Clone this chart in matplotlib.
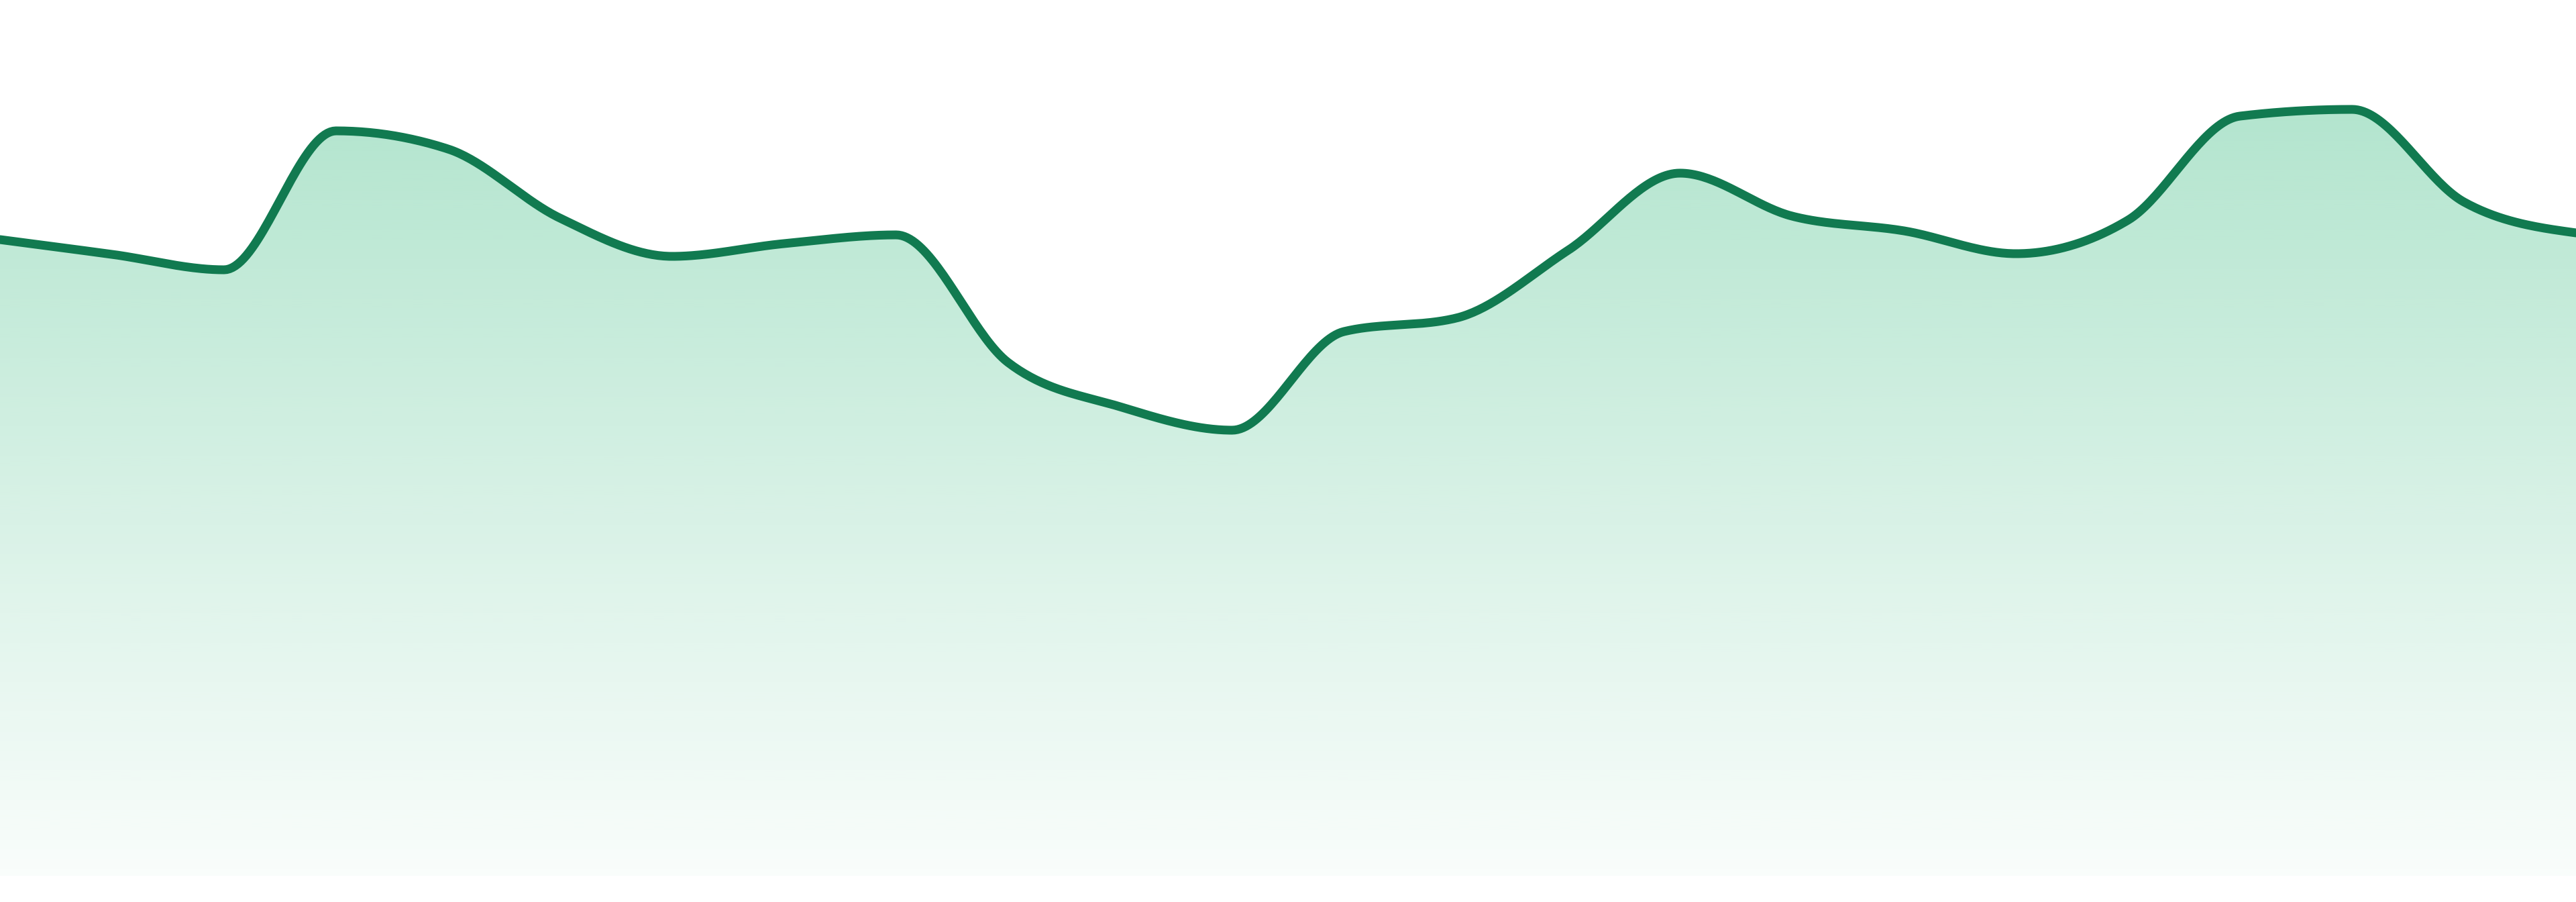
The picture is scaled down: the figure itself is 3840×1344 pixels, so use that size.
import numpy as np
import matplotlib
matplotlib.use("Agg")
import matplotlib.pyplot as plt
from matplotlib.colors import to_rgb

# ---- data ----
categories = list(range(24))
values = [94.8, 92.6, 90.3, 111.0, 108.3, 98.0, 92.3, 94.2, 95.5, 76.5, 69.9, 66.4,
          81.1, 83.1, 93.2, 104.7, 98.3, 96.1, 92.7, 97.7, 113.2, 114.2, 100.4, 95.8]
y_min, y_max = 0.0, 130.5

line_color = "#117A50"
fill_base = "#18B06B"


def monotone_x(x, y, n=40):
    """d3 curveMonotoneX (Steffen) evaluated as cubic Hermite segments."""
    x = np.asarray(x, float)
    y = np.asarray(y, float)
    m = len(x)
    h = np.diff(x)
    s = np.diff(y) / h
    t = np.zeros(m)
    for i in range(1, m - 1):
        h0, h1 = h[i - 1], h[i]
        s0, s1 = s[i - 1], s[i]
        p = (s0 * h1 + s1 * h0) / (h0 + h1)
        t[i] = (np.sign(s0) + np.sign(s1)) * min(abs(s0), abs(s1), 0.5 * abs(p))
    t[0] = (3 * s[0] - t[1]) / 2
    t[-1] = (3 * s[-1] - t[-2]) / 2
    xs, ys = [], []
    for i in range(m - 1):
        u = np.linspace(0, 1, n, endpoint=(i == m - 2))
        hh = h[i]
        h00 = 2 * u**3 - 3 * u**2 + 1
        h10 = u**3 - 2 * u**2 + u
        h01 = -2 * u**3 + 3 * u**2
        h11 = u**3 - u**2
        xs.append(x[i] + u * hh)
        ys.append(h00 * y[i] + h10 * hh * t[i] + h01 * y[i + 1] + h11 * hh * t[i + 1])
    return np.concatenate(xs), np.concatenate(ys)


W, H = 3840, 1344
dpi = 200
fig = plt.figure(figsize=(W / dpi, H / dpi), dpi=dpi)
fig.patch.set_facecolor("white")
bottom_px = 1305
ax = fig.add_axes([0, (H - bottom_px) / H, 1, bottom_px / H])
ax.set_xlim(categories[0], categories[-1])
ax.set_ylim(y_min, y_max)
ax.axis("off")

xs, ys = monotone_x(categories, values)

# gradient fill clipped to area under curve
poly = ax.fill_between(xs, ys, y_min, color="none", lw=0)
top_val = max(values)
n = 512
rgb = np.array(to_rgb(fill_base))
grad = np.zeros((n, 1, 4))
grad[:, 0, :3] = rgb
grad[:, 0, 3] = np.linspace(0.025, 0.33, n)
im = ax.imshow(grad, extent=[categories[0], categories[-1], y_min, top_val],
               origin="lower", aspect="auto", interpolation="bilinear", zorder=1)
path = poly.get_paths()[0]
im.set_clip_path(path, transform=ax.transData)

ax.plot(xs, ys, color=line_color, lw=4.7, solid_capstyle="round",
        solid_joinstyle="round", zorder=3, clip_on=True)

fig.savefig("out.png", dpi=dpi, facecolor="white")
